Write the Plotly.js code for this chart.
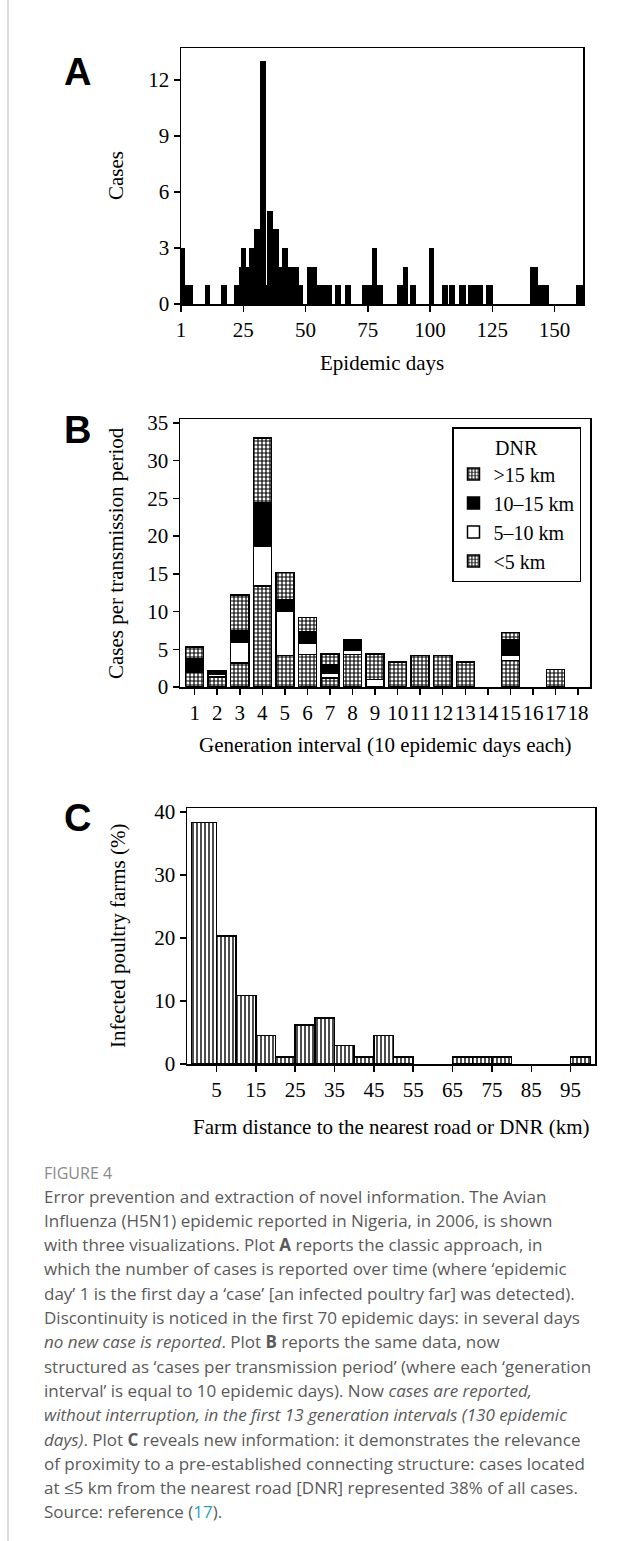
<!DOCTYPE html>
<html>
<head>
<meta charset="utf-8">
<script src="https://cdn.plot.ly/plotly-3.0.1.min.js"></script>
<style>
html,body{margin:0;padding:0;background:#fff;}
#chart{width:641px;height:1541px;}
</style>
</head>
<body>
<div id="chart"></div>
<script>
// ---------- Panel A: cases by epidemic day ----------
const dayStart = [0, 1.5, 9.5, 16.0, 21.3, 23.2, 24.0, 26.2, 27.3, 29.4, 31.6, 34.0, 34.5, 36.8, 39.3, 40.7, 42.8, 47.2, 50.5, 54.7, 61.7, 65.9, 72.7, 76.6, 78.7, 86.6, 89.2, 92.1, 99.4, 104.7, 107.6, 111.8, 115.1, 122.3, 140.0, 143.5, 158.5];
const dayEnd   = [1.5, 4.8, 11.8, 18.6, 23.2, 24.0, 26.2, 27.3, 29.4, 31.6, 34.0, 34.5, 36.8, 39.3, 40.7, 42.8, 47.2, 49.1, 54.7, 60.7, 64.1, 68.3, 76.6, 78.7, 81.2, 89.2, 91.2, 94.2, 101.6, 107.2, 110.2, 114.5, 121.4, 125.2, 143.5, 147.8, 161.3];
const dailyCases = [3, 1, 1, 1, 1, 2, 3, 2, 3, 4, 13, 1, 5, 4, 2, 3, 2, 1, 2, 1, 1, 1, 1, 3, 1, 1, 2, 1, 3, 1, 1, 1, 1, 1, 2, 1, 1];
const dayTickVals = [0, 25, 50, 75, 100, 125, 150];
const dayTickText = ["1", "25", "50", "75", "100", "125", "150"];

// ---------- Panel B: cases per generation interval, by DNR ----------
const intervals = [1,2,3,4,5,6,7,8,9,10,11,12,13,14,15,16,17,18];
const dnrLt5   = [2.0, 1.3, 3.2, 13.4, 4.2, 4.3, 1.2, 4.3, 0,   3.3, 4.2, 4.2, 3.3, 0, 3.5, 0, 2.3, 0];
const dnr5to10 = [0,   0.45,2.7, 5.3,  5.8, 1.5, 0.65,0.6, 1.0, 0,   0,   0,   0,   0, 0.7, 0, 0,   0];
const dnr10to15= [1.7, 0.35,1.6, 5.7,  1.5, 1.5, 1.05,1.4, 0,   0,   0,   0,   0,   0, 2.1, 0, 0,   0];
const dnrGt15  = [1.6, 0,   4.7, 8.6,  3.7, 1.9, 1.45,0,   3.35,0,   0,   0,   0,   0, 0.9, 0, 0,   0];

// ---------- Panel C: % infected farms by distance to road/DNR ----------
const kmStart = [-1.3, 5, 10, 15, 20, 25, 30, 35, 40, 45, 50, 65, 70, 75, 95];
const kmEnd   = [5, 10, 15, 20, 25, 30, 35, 40, 45, 50, 55, 70, 75, 80, 100];
const farmPct = [38.3, 20.3, 10.9, 4.5, 1.1, 6.2, 7.3, 2.9, 1.1, 4.5, 1.1, 1.1, 1.1, 1.1, 1.1];
const kmTickVals = [5, 15, 25, 35, 45, 55, 65, 75, 85, 95];

// ---------- layout helpers ----------
const W = 641, H = 1541;
const px = x => x / W;
const py = y => 1 - y / H;
const SERIF = "Liberation Serif, Times New Roman, serif";
const SANS = "Open Sans, sans-serif";

const mid = (a, b) => a.map((v, i) => (v + b[i]) / 2);
const span = (a, b) => a.map((v, i) => b[i] - v);
const nz = a => a.map(v => (v > 0 ? v : null));   // empty segments are not drawn

const gridPattern = {shape: "+", fgcolor: "black", bgcolor: "white", size: 4, solidity: 0.5};

const traces = [
  {type: "bar", x: mid(dayStart, dayEnd), width: span(dayStart, dayEnd), y: dailyCases,
   xaxis: "x", yaxis: "y", marker: {color: "black", line: {width: 0}}, showlegend: false, hoverinfo: "skip"},
  {type: "bar", name: "&lt;5 km", x: intervals, y: nz(dnrLt5), width: 0.8, xaxis: "x2", yaxis: "y2",
   marker: {color: "black", pattern: gridPattern, line: {color: "black", width: 1.5}}},
  {type: "bar", name: "5–10 km", x: intervals, y: nz(dnr5to10), width: 0.8, xaxis: "x2", yaxis: "y2",
   marker: {color: "white", line: {color: "black", width: 1.5}}},
  {type: "bar", name: "10–15 km", x: intervals, y: nz(dnr10to15), width: 0.8, xaxis: "x2", yaxis: "y2",
   marker: {color: "black", line: {color: "black", width: 1.5}}},
  {type: "bar", name: "&gt;15 km", x: intervals, y: nz(dnrGt15), width: 0.8, xaxis: "x2", yaxis: "y2",
   marker: {color: "black", pattern: gridPattern, line: {color: "black", width: 1.5}}},
  {type: "bar", x: mid(kmStart, kmEnd), width: span(kmStart, kmEnd), y: farmPct,
   xaxis: "x3", yaxis: "y3", showlegend: false, hoverinfo: "skip",
   marker: {color: "white", pattern: {shape: "|", fgcolor: "black", bgcolor: "white", size: 4, solidity: 0.35},
            line: {color: "black", width: 1.5}}}
];

const axisBase = {
  showline: true, linecolor: "black", linewidth: 1.5, mirror: true,
  ticks: "outside", ticklen: 6, tickwidth: 1.5, tickcolor: "black",
  showgrid: false, zeroline: false, fixedrange: true, tickangle: 0,
  tickfont: {family: SERIF, size: 21, color: "black"}
};

const ann = [];
function label(t, x, y, opts) {
  ann.push(Object.assign({text: t, x: px(x), y: py(y), xref: "paper", yref: "paper", showarrow: false,
    xanchor: "center", yanchor: "middle", font: {family: SERIF, size: 21, color: "black"}}, opts || {}));
}
const LETTER = {family: "Liberation Sans, Arial, sans-serif", size: 38, color: "black"};
// panel letters
label("<b>A</b>", 77, 72, {font: LETTER});
label("<b>B</b>", 77, 430, {font: LETTER});
label("<b>C</b>", 77, 818, {font: LETTER});
// axis titles
label("Epidemic days", 382, 363);
label("Cases", 116, 176, {textangle: -90});
label("Generation interval (10 epidemic days each)", 385, 745);
label("Cases per transmission period", 116, 553, {textangle: -90});
label("Farm distance to the nearest road or DNR (km)", 391, 1127);
label("Infected poultry farms (%)", 118, 936, {textangle: -90});

// caption
const captionLines = [
  "Error prevention and extraction of novel information. The Avian",
  "Influenza (H5N1) epidemic reported in Nigeria, in 2006, is shown",
  "with three visualizations. Plot <b>A</b> reports the classic approach, in",
  "which the number of cases is reported over time (where ‘epidemic",
  "day’ 1 is the first day a ‘case’ [an infected poultry far] was detected).",
  "Discontinuity is noticed in the first 70 epidemic days: in several days",
  "<i>no new case is reported</i>. Plot <b>B</b> reports the same data, now",
  "structured as ‘cases per transmission period’ (where each ‘generation",
  "interval’ is equal to 10 epidemic days). Now <i>cases are reported,</i>",
  "<i>without interruption, in the first 13 generation intervals (130 epidemic</i>",
  "<i>days)</i>. Plot <b>C</b> reveals new information: it demonstrates the relevance",
  "of proximity to a pre-established connecting structure: cases located",
  "at ≤5 km from the nearest road [DNR] represented 38% of all cases.",
  "Source: reference (<span style=\"color:#2a9fb6\">17</span>)."
];
label("FIGURE 4", 42, 1173, {xanchor: "left", font: {family: SANS, size: 16, color: "#8a8a8a"}});
captionLines.forEach((t, i) => {
  label(t, 42, 1196 + 24.3 * i, {xanchor: "left", font: {family: SANS, size: 17, color: "#5a5a5a"}});
});

const layout = {
  width: W, height: H,
  margin: {l: 0, r: 0, t: 0, b: 0},
  paper_bgcolor: "white", plot_bgcolor: "white",
  barmode: "stack", bargap: 0.2,
  showlegend: true,
  legend: {
    x: px(581), xanchor: "right", y: py(427), yanchor: "top",
    bordercolor: "black", borderwidth: 1.5, bgcolor: "white",
    traceorder: "reversed", tracegroupgap: 0,
    font: {family: SERIF, size: 20, color: "black"},
    title: {text: "DNR", side: "top center", font: {family: SERIF, size: 20, color: "black"}}
  },
  xaxis: Object.assign({}, axisBase, {domain: [px(181), px(583)], range: [0, 161.4],
    tickmode: "array", tickvals: dayTickVals, ticktext: dayTickText, anchor: "y"}),
  yaxis: Object.assign({}, axisBase, {domain: [py(304), py(48)], range: [0, 13.7],
    tickmode: "array", tickvals: [0, 3, 6, 9, 12], anchor: "x"}),
  xaxis2: Object.assign({}, axisBase, {domain: [px(180), px(590)], range: [0.35, 18.53],
    tickmode: "array", tickvals: intervals, anchor: "y2"}),
  yaxis2: Object.assign({}, axisBase, {domain: [py(687), py(419)], range: [0, 35.5],
    tickmode: "array", tickvals: [0, 5, 10, 15, 20, 25, 30, 35], anchor: "x2"}),
  xaxis3: Object.assign({}, axisBase, {domain: [px(187), px(595)], range: [-2.5, 101.2],
    tickmode: "array", tickvals: kmTickVals, anchor: "y3"}),
  yaxis3: Object.assign({}, axisBase, {domain: [py(1064), py(808)], range: [0, 40.6],
    tickmode: "array", tickvals: [0, 10, 20, 30, 40], anchor: "x3"}),
  annotations: ann,
  shapes: [{type: "line", xref: "paper", yref: "paper", x0: px(8), x1: px(8), y0: 0, y1: 1,
            line: {color: "#cfcfcf", width: 1.5}}]
};

Plotly.newPlot("chart", traces, layout, {staticPlot: true, displayModeBar: false});
</script>
</body>
</html>
